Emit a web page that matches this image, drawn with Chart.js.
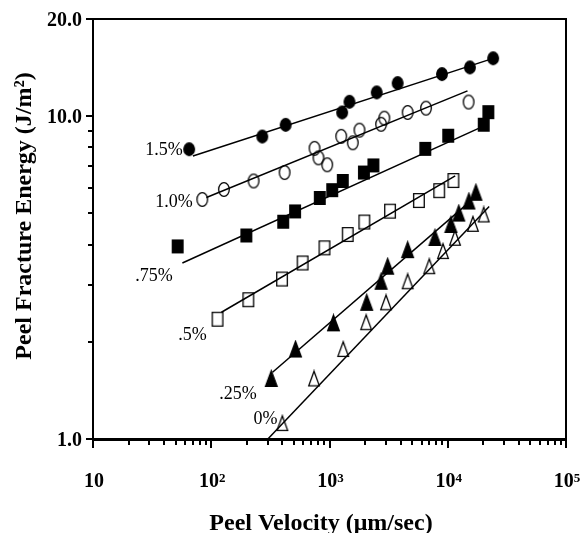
<!DOCTYPE html>
<html>
<head>
<meta charset="utf-8">
<script src="https://cdn.jsdelivr.net/npm/chart.js@4/dist/chart.umd.min.js"></script>
<style>
  html, body { margin: 0; padding: 0; background: #fff; }
</style>
</head>
<body>
<canvas id="chart" width="584" height="533"></canvas>
<script>
// peel velocity (um/sec) and peel fracture energy (J/m^2), one pair per composition
const seriesNames = ['1.5%', '1.0%', '.75%', '.5%', '.25%', '0%'];

const vel15 = [65, 270, 426, 1280, 1475, 2507, 3770, 8930, 15400, 24200];
const energy15 = [7.90, 8.65, 9.40, 10.27, 11.08, 11.85, 12.66, 13.50, 14.16, 15.11];

const vel10 = [84, 128, 228, 417, 747, 807, 957, 1256, 1574, 1792, 2731, 2911, 4580, 6550, 15000];
const energy10 = [5.52, 5.93, 6.30, 6.69, 7.95, 7.43, 7.07, 8.66, 8.27, 9.05, 9.44, 9.86, 10.27, 10.59, 11.06];

const vel075 = [52, 198, 406, 512, 828, 1054, 1295, 1954, 2350, 6460, 10090, 20140, 22040];
const energy075 = [3.95, 4.27, 4.71, 5.07, 5.58, 5.90, 6.30, 6.69, 7.04, 7.92, 8.70, 9.41, 10.29];

const vel05 = [113, 206, 397, 592, 907, 1426, 1972, 3250, 5700, 8470, 11170];
const energy05 = [2.35, 2.70, 3.13, 3.51, 3.91, 4.30, 4.70, 5.08, 5.48, 5.88, 6.32];

const vel025 = [322, 516, 1081, 2065, 2731, 3105, 4580, 7800, 10640, 12390, 15100, 17300];
const energy025 = [1.54, 1.90, 2.29, 2.65, 3.08, 3.43, 3.86, 4.21, 4.62, 5.01, 5.46, 5.81];

const vel0 = [399, 740, 1306, 2042, 3008, 4580, 6980, 9120, 11530, 16330, 20140];
const energy0 = [1.12, 1.54, 1.90, 2.30, 2.65, 3.08, 3.43, 3.82, 4.20, 4.64, 4.96];

// fitted power-law lines: [start, end] for each series
const fitVel = [[70, 24200], [91, 14690], [57, 20300], [122, 11560], [330, 14620], [301, 22400]];
const fitEnergy = [[7.53, 15.1], [5.60, 11.98], [3.51, 9.33], [2.47, 6.53], [1.61, 5.35], [1.0, 5.25]];

// where each series label sits (right edge, middle), in data units
const labelVel = [57.5, 69.8, 47.3, 91.6, 242, 364];
const labelEnergy = [7.90, 5.45, 3.23, 2.12, 1.39, 1.158];

const xTickValues = [10, 100, 1000, 10000, 100000];
const xTickExponents = ['', '2', '3', '4', '5'];
const yTickValues = [1, 10, 20];
const yTickLabels = ['1.0', '10.0', '20.0'];

const SERIF = '"Liberation Serif", "Times New Roman", serif';

function makeMarker(shape, filled, w, h) {
  const c = document.createElement('canvas');
  c.width = w + 2;
  c.height = h + 2;
  const g = c.getContext('2d');
  const cx = c.width / 2, cy = c.height / 2, p = 0.7;
  g.lineWidth = 1.3;
  g.strokeStyle = '#000';
  g.fillStyle = '#000';
  g.beginPath();
  if (shape === 'circle') {
    g.ellipse(cx, cy, w / 2 - p, h / 2 - p, 0, 0, Math.PI * 2);
  } else if (shape === 'square') {
    g.rect(cx - w / 2 + p, cy - h / 2 + p, w - 2 * p, h - 2 * p);
  } else {
    g.moveTo(cx, cy - h / 2 + p);
    g.lineTo(cx + w / 2 - p, cy + h / 2 - p);
    g.lineTo(cx - w / 2 + p, cy + h / 2 - p);
    g.closePath();
  }
  if (filled) g.fill();
  g.stroke();
  return c;
}

const markers = [
  makeMarker('circle', true, 12, 14),
  makeMarker('circle', false, 12, 15),
  makeMarker('square', true, 12, 14),
  makeMarker('square', false, 12, 15),
  makeMarker('triangle', true, 13, 17),
  makeMarker('triangle', false, 12, 16),
];

const allVel = [vel15, vel10, vel075, vel05, vel025, vel0];
const allEnergy = [energy15, energy10, energy075, energy05, energy025, energy0];

const datasets = [];
seriesNames.forEach((name, i) => {
  datasets.push({
    label: name + ' fit',
    data: fitVel[i].map((v, k) => ({ x: v, y: fitEnergy[i][k] })),
    showLine: true,
    borderColor: '#000',
    borderWidth: 1.5,
    pointRadius: 0,
    fill: false,
  });
});
seriesNames.forEach((name, i) => {
  datasets.push({
    label: name,
    data: allVel[i].map((v, k) => ({ x: v, y: allEnergy[i][k] })),
    showLine: false,
    pointStyle: markers[i],
    pointRadius: 7,
  });
});

const axesDecor = {
  id: 'axesDecor',
  afterDraw(chart) {
    const { ctx, chartArea: a, scales: { x, y } } = chart;
    const left = Math.round(a.left), right = Math.round(a.right);
    const top = Math.round(a.top), bottom = Math.round(a.bottom);
    ctx.save();
    ctx.fillStyle = '#000';

    // frame: top, right, left and a heavier baseline
    ctx.fillRect(left - 1, top - 1, right - left + 2, 2);
    ctx.fillRect(right - 1, top - 1, 2, bottom - top + 2);
    ctx.fillRect(left - 1, top - 1, 2, bottom - top + 2);
    ctx.fillRect(left - 1, bottom - 1, right - left + 2, 3);

    // x ticks, every 1..9 in each decade
    for (let dec = 10; dec <= 100000; dec *= 10) {
      for (let k = 1; k <= 9; k++) {
        const v = k * dec;
        if (v > 100000) break;
        const px = Math.round(x.getPixelForValue(v));
        ctx.fillRect(px - 1, bottom + 1, 2, k === 1 ? 8 : 5);
      }
    }
    // y ticks
    for (let v = 1; v <= 10; v++) {
      const py = Math.round(y.getPixelForValue(v));
      const len = v === 1 || v === 10 ? 6 : 4;
      ctx.fillRect(left - 1 - len, py - 1, len, 2);
    }
    ctx.fillRect(left - 7, Math.round(y.getPixelForValue(20)) - 1, 6, 2);

    // y tick labels
    ctx.font = 'bold 20px ' + SERIF;
    ctx.textAlign = 'right';
    ctx.textBaseline = 'alphabetic';
    yTickValues.forEach((v, i) => {
      ctx.fillText(yTickLabels[i], a.left - 11, y.getPixelForValue(v) + 7);
    });

    // x tick labels 10, 10^2 ...
    ctx.textAlign = 'left';
    xTickValues.forEach((v, i) => {
      ctx.font = 'bold 20px ' + SERIF;
      const wBase = ctx.measureText('10').width;
      ctx.font = 'bold 13px ' + SERIF;
      const wSup = xTickExponents[i] ? ctx.measureText(xTickExponents[i]).width : 0;
      const lx = x.getPixelForValue(v) - (wBase + wSup) / 2 + 1;
      ctx.font = 'bold 20px ' + SERIF;
      ctx.fillText('10', lx, 487);
      if (wSup) {
        ctx.font = 'bold 13px ' + SERIF;
        ctx.fillText(xTickExponents[i], lx + wBase, 482);
      }
    });

    // axis titles
    ctx.font = 'bold 24px ' + SERIF;
    ctx.textAlign = 'center';
    ctx.fillText('Peel Velocity (\u03BCm/sec)', 321, 530);
    ctx.save();
    ctx.translate(31, 216);
    ctx.rotate(-Math.PI / 2);
    ctx.fillText('Peel Fracture Energy (J/m\u00B2)', 0, 0);
    ctx.restore();

    // series labels
    ctx.font = '18px ' + SERIF;
    ctx.textAlign = 'right';
    seriesNames.forEach((name, i) => {
      ctx.fillText(name, x.getPixelForValue(labelVel[i]), y.getPixelForValue(labelEnergy[i]) + 6);
    });
    ctx.restore();
  },
};

new Chart(document.getElementById('chart'), {
  type: 'scatter',
  data: { datasets },
  options: {
    responsive: false,
    animation: false,
    devicePixelRatio: 1,
    layout: { padding: { left: 93, top: 19, right: 18, bottom: 94 } },
    plugins: { legend: { display: false }, tooltip: { enabled: false } },
    scales: {
      x: { type: 'logarithmic', min: 10, max: 100000, display: false },
      y: { type: 'logarithmic', min: 1, max: 20, display: false },
    },
  },
  plugins: [axesDecor],
});
</script>
</body>
</html>
